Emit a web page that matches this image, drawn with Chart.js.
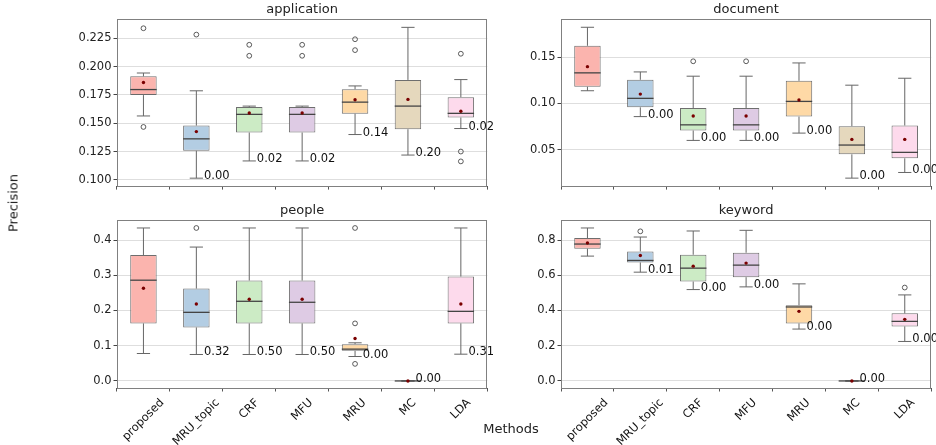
<!DOCTYPE html>
<html>
<head>
<meta charset="utf-8">
<script src="https://cdn.jsdelivr.net/npm/chart.js@4.4.1/dist/chart.umd.min.js"></script>
<style>
  html, body { margin: 0; padding: 0; background: #fff; }
  body { width: 936px; height: 445px; position: relative; overflow: hidden; font-family: "DejaVu Sans", sans-serif; }
  canvas { position: absolute; }
  .axis-title { position: absolute; font-size: 13px; color: #222; white-space: nowrap; transform: translate(-50%, -50%); }
</style>
</head>
<body>
<canvas id="c-app"  width="520" height="195" style="left:0;top:0;"></canvas>
<canvas id="c-doc"  width="446" height="195" style="left:490px;top:0;"></canvas>
<canvas id="c-ppl"  width="520" height="244" style="left:0;top:201px;"></canvas>
<canvas id="c-kw"   width="446" height="244" style="left:490px;top:201px;"></canvas>
<div class="axis-title" style="left:13px;top:203px;transform:translate(-50%,-50%) rotate(-90deg);">Precision</div>
<div class="axis-title" style="left:511px;top:428px;">Methods</div>

<script>
// Box plot summaries, one array per statistic.
const METHODS = ["proposed", "MRU_topic", "CRF", "MFU", "MRU", "MC", "LDA"];
const COLORS  = ["#fbb4ae", "#b3cde3", "#ccebc5", "#decbe4", "#fed9a6", "#e5d8bd", "#fddaec"];

// application
const appLo    = [0.1564, 0.1015, 0.1167, 0.1167, 0.1400, 0.1219, 0.1453];
const appQ1    = [0.1748, 0.1257, 0.1418, 0.1418, 0.1584, 0.1447, 0.1550];
const appMed   = [0.1797, 0.1362, 0.1578, 0.1578, 0.1686, 0.1651, 0.1587];
const appQ3    = [0.1914, 0.1479, 0.1642, 0.1642, 0.1800, 0.1882, 0.1730];
const appHi    = [0.1943, 0.1786, 0.1651, 0.1651, 0.1829, 0.2346, 0.1885];
const appMean  = [0.1859, 0.1426, 0.1590, 0.1590, 0.1707, 0.1710, 0.1605];
const appOut   = [[0.2338, 0.1467], [0.2282], [0.2192, 0.2095], [0.2192, 0.2095], [0.2241, 0.2145], [], [0.2113, 0.1250, 0.1163]];
const appNotes = ["", "0.00", "0.02", "0.02", "0.14", "0.20", "0.02"];
const appTicks = [0.100, 0.125, 0.150, 0.175, 0.200, 0.225];

// document
const docLo    = [0.1136, 0.0857, 0.0600, 0.0600, 0.0679, 0.0193, 0.0254];
const docQ1    = [0.1179, 0.0957, 0.0707, 0.0707, 0.0857, 0.0450, 0.0407];
const docMed   = [0.1329, 0.1054, 0.0768, 0.0768, 0.1021, 0.0550, 0.0471];
const docQ3    = [0.1621, 0.1254, 0.0950, 0.0950, 0.1243, 0.0754, 0.0761];
const docHi    = [0.1821, 0.1339, 0.1293, 0.1293, 0.1436, 0.1196, 0.1271];
const docMean  = [0.1396, 0.1100, 0.0864, 0.0864, 0.1036, 0.0611, 0.0611];
const docOut   = [[], [], [0.1454], [0.1454], [], [], []];
const docNotes = ["", "0.00", "0.00", "0.00", "0.00", "0.00", "0.00"];
const docTicks = [0.05, 0.10, 0.15];

// people
const pplLo    = [0.0779, 0.0751, 0.0751, 0.0751, 0.0694, 0, 0.0760];
const pplQ1    = [0.1634, 0.1520, 0.1634, 0.1634, 0.0855, 0, 0.1634];
const pplMed   = [0.2860, 0.1948, 0.2261, 0.2233, 0.0903, 0, 0.1976];
const pplQ3    = [0.3572, 0.2622, 0.2850, 0.2850, 0.1045, 0, 0.2964];
const pplHi    = [0.4342, 0.3800, 0.4342, 0.4342, 0.1083, 0, 0.4342];
const pplMean  = [0.2632, 0.2185, 0.2318, 0.2318, 0.1207, 0, 0.2185];
const pplOut   = [[], [0.4342], [], [], [0.4342, 0.1634, 0.0485], [], []];
const pplNotes = ["", "0.32", "0.50", "0.50", "0.00", "0.00", "0.31"];
const pplTicks = [0.0, 0.1, 0.2, 0.3, 0.4];

// keyword
const kwLo     = [0.7088, 0.6176, 0.5188, 0.5340, 0.2945, 0, 0.2242];
const kwQ1     = [0.7506, 0.6727, 0.5644, 0.5891, 0.3268, 0, 0.3097];
const kwMed    = [0.7772, 0.6841, 0.6404, 0.6575, 0.4200, 0, 0.3382];
const kwQ3     = [0.8114, 0.7354, 0.7164, 0.7278, 0.4295, 0, 0.3838];
const kwHi     = [0.8684, 0.8171, 0.8513, 0.8551, 0.5511, 0, 0.4884];
const kwMean   = [0.7829, 0.7126, 0.6518, 0.6689, 0.3952, 0, 0.3496];
const kwOut    = [[], [0.8494], [], [], [], [], [0.5302]];
const kwNotes  = ["", "0.01", "0.00", "0.00", "0.00", "0.00", "0.00"];
const kwTicks  = [0.0, 0.2, 0.4, 0.6, 0.8];

const FONT = "'DejaVu Sans', sans-serif";
Chart.defaults.font.family = FONT;

const panels = [
  { id: "c-app", title: "application", lo: appLo, q1: appQ1, med: appMed, q3: appQ3, hi: appHi, mean: appMean, out: appOut, notes: appNotes, ticks: appTicks,
    min: 0.0945, max: 0.2417, dec: 3, yWidth: 117, padRight: 32.7, xHeight: 8, xLabels: false },
  { id: "c-doc", title: "document", lo: docLo, q1: docQ1, med: docMed, q3: docQ3, hi: docHi, mean: docMean, out: docOut, notes: docNotes, ticks: docTicks,
    min: 0.0107, max: 0.1907, dec: 2, yWidth: 71, padRight: 4, xHeight: 8, xLabels: false },
  { id: "c-ppl", title: "people", lo: pplLo, q1: pplQ1, med: pplMed, q3: pplQ3, hi: pplHi, mean: pplMean, out: pplOut, notes: pplNotes, ticks: pplTicks,
    min: -0.0200, max: 0.4560, dec: 1, yWidth: 117, padRight: 32.7, xHeight: 57, xLabels: true },
  { id: "c-kw", title: "keyword", lo: kwLo, q1: kwQ1, med: kwMed, q3: kwQ3, hi: kwHi, mean: kwMean, out: kwOut, notes: kwNotes, ticks: kwTicks,
    min: -0.0400, max: 0.9120, dec: 1, yWidth: 71, padRight: 4, xHeight: 57, xLabels: true }
];

function line(ctx, x1, y1, x2, y2) {
  ctx.beginPath();
  ctx.moveTo(x1, y1);
  ctx.lineTo(x2, y2);
  ctx.stroke();
}

// Whiskers, medians, frame, annotations and rotated method names
function boxPartsPlugin(p) {
  return {
    id: "boxParts",
    afterDatasetDraw(chart, args) {
      if (args.index !== 0) return;
      const y = chart.scales.y, ctx = chart.ctx;
      ctx.save();
      args.meta.data.forEach((bar, i) => {
        const x = bar.x, half = bar.width / 2, cap = bar.width / 4;
        const yHi = y.getPixelForValue(p.hi[i]), yLo = y.getPixelForValue(p.lo[i]);
        const yQ1 = y.getPixelForValue(p.q1[i]), yQ3 = y.getPixelForValue(p.q3[i]);
        const yMed = y.getPixelForValue(p.med[i]);
        ctx.strokeStyle = "#666";
        ctx.lineWidth = 1;
        line(ctx, x, yQ3, x, yHi);
        line(ctx, x - cap, yHi, x + cap, yHi);
        line(ctx, x, yQ1, x, yLo);
        line(ctx, x - cap, yLo, x + cap, yLo);
        ctx.strokeStyle = "#444";
        ctx.lineWidth = 1.3;
        line(ctx, x - half, yMed, x + half, yMed);
      });
      ctx.restore();
    },
    afterDraw(chart) {
      const { ctx, chartArea: a } = chart;
      const xs = chart.scales.x, y = chart.scales.y;
      const bars = chart.getDatasetMeta(0).data;
      ctx.save();
      ctx.strokeStyle = "#808080";
      ctx.lineWidth = 1;
      ctx.strokeRect(Math.round(a.left) + 0.5, Math.round(a.top) + 0.5, Math.round(a.right - a.left) - 1, Math.round(a.bottom - a.top));

      ctx.fillStyle = "#111";
      ctx.font = "11.5px " + FONT;
      ctx.textAlign = "left";
      ctx.textBaseline = "alphabetic";
      p.notes.forEach((t, i) => {
        if (!t) return;
        const bar = bars[i];
        ctx.fillText(t, bar.x + bar.width / 4 + 1, y.getPixelForValue(p.lo[i]) + 1);
      });

      if (p.xLabels) {
        const top = a.bottom + 3.5 + 4.7;
        ctx.textAlign = "center";
        ctx.textBaseline = "middle";
        METHODS.forEach((m, i) => {
          const w = ctx.measureText(m).width, h = 11.5 * 1.17;
          const d = (w + h) * Math.SQRT1_2;
          ctx.save();
          ctx.translate(xs.getPixelForValue(i), top + d / 2);
          ctx.rotate(-Math.PI / 4);
          ctx.fillText(m, 0, 0);
          ctx.restore();
        });
      }
      ctx.restore();
    }
  };
}

function drawPanel(p) {
  const outliers = [];
  p.out.forEach((vals, i) => vals.forEach(v => outliers.push({ x: METHODS[i], y: v })));

  new Chart(document.getElementById(p.id).getContext("2d"), {
    type: "bar",
    data: {
      labels: METHODS,
      datasets: [
        {
          type: "bar",
          data: p.q1.map((q, i) => [q, p.q3[i]]),
          backgroundColor: COLORS,
          borderColor: "rgba(85,85,85,0.85)",
          borderWidth: 1,
          borderSkipped: false,
          barPercentage: 0.5,
          categoryPercentage: 1.0,
          order: 3
        },
        {
          type: "line",
          data: p.mean,
          showLine: false,
          pointRadius: 1.7,
          pointBorderWidth: 0,
          pointBackgroundColor: "#7a0000",
          order: 1
        },
        {
          type: "line",
          data: outliers,
          showLine: false,
          pointRadius: 2.4,
          pointBorderWidth: 0.8,
          pointBorderColor: "#333",
          pointBackgroundColor: "rgba(0,0,0,0)",
          order: 2
        }
      ]
    },
    options: {
      responsive: false,
      animation: false,
      events: [],
      layout: { padding: { left: 0, right: p.padRight, top: 0, bottom: 0 } },
      plugins: {
        legend: { display: false },
        tooltip: { enabled: false },
        title: {
          display: true,
          text: p.title,
          fullSize: false,
          color: "#222",
          font: { size: 13, weight: "normal", family: FONT },
          padding: { top: 2, bottom: 1.7 }
        }
      },
      scales: {
        x: {
          offset: true,
          ticks: { display: false },
          grid: { drawOnChartArea: false, drawTicks: true, tickLength: 3.5, tickColor: "#555" },
          border: { display: false },
          afterFit: s => { s.height = p.xHeight; }
        },
        y: {
          min: p.min,
          max: p.max,
          afterBuildTicks: s => { s.ticks = p.ticks.map(v => ({ value: v })); },
          afterFit: s => { s.width = p.yWidth; },
          ticks: {
            padding: 2,
            color: "#222",
            font: { size: 11.5, family: FONT },
            callback: v => Number(v).toFixed(p.dec)
          },
          grid: { color: "#dedede", lineWidth: 1, drawTicks: true, tickLength: 3.5, tickColor: "#444" },
          border: { display: false }
        }
      }
    },
    plugins: [boxPartsPlugin(p)]
  });
}

panels.forEach(drawPanel);
</script>
</body>
</html>
